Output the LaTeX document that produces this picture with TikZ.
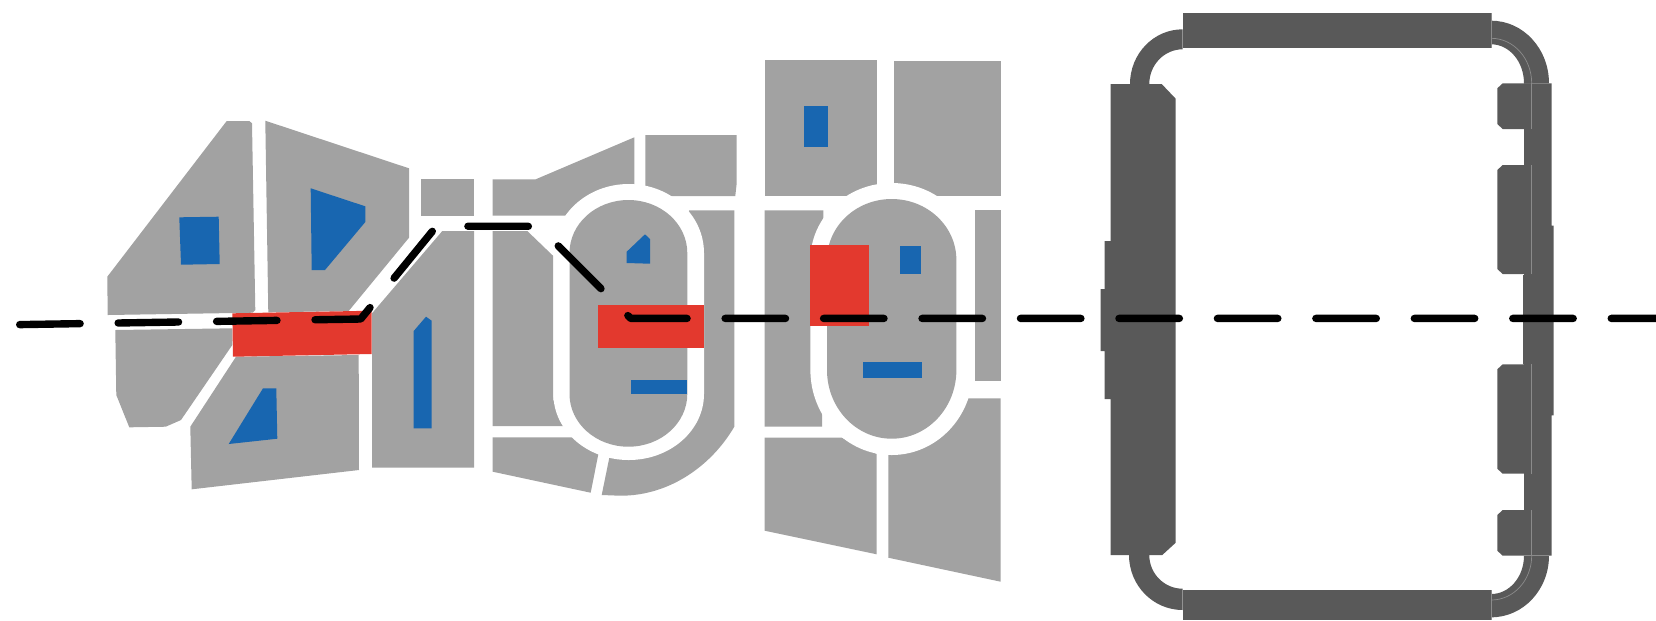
\documentclass[tikz,border=0pt]{standalone}
\usepackage{tikz}
\definecolor{zonegray}{HTML}{A2A2A2}
\definecolor{parkblue}{HTML}{1866B0}
\definecolor{hitred}{HTML}{E3392E}
\definecolor{hulldark}{HTML}{595959}
\tikzstyle{zone}=[fill=zonegray]
\tikzstyle{park}=[fill=parkblue]
\tikzstyle{hit}=[fill=hitred]
\tikzstyle{hull}=[fill=hulldark]
\tikzstyle{seam}=[draw=white!30!hulldark,line width=0.2pt]
\tikzstyle{route}=[draw,black,line width=2.1pt,line cap=round,line join=round,dash pattern=on 0.604cm off 0.38cm]

\begin{document}
\begin{tikzpicture}[x=0.01cm,y=-0.01cm]
    \useasboundingbox (0,0) rectangle (1656,620);
    % First we draw the grey blocks on the left
    \fill[zone] (226.7,121) -- (249.3,121) -- (252,123.3) -- (255.3,310) -- (252.7,312.7) -- (107.7,315) -- (107.3,276.7) -- cycle;
    \fill[zone] (265.3,120.7) -- (409,168.3) -- (409,237.7) -- (348.7,311) -- (268.3,312.3) -- cycle;
    \fill[zone] (115.3,330) -- (232.3,328.3) -- (232.3,345) -- (181,420) -- (165.7,426.7) -- (129.3,427.3) -- (116.3,395) -- cycle;
    \fill[zone] (236,356.7) -- (358.7,355) -- (359,470) -- (191.7,489.3) -- (190.3,426.7) -- cycle;
    \fill[zone] (442.3,231) -- (474,231) -- (474,467.7) -- (372,467.7) -- (372,313.3) -- cycle;
    \fill[zone] (492.7,179.3) -- (535.7,179.3) -- (634.3,137.3) -- (634.3,200) -- (580,215.7) -- (492.7,215.7) -- cycle;
    \fill[zone] (645.3,135) -- (736.7,135) -- (736.7,183.3) -- (735.3,196) -- (645.3,196) -- cycle;
    \fill[zone] (492.7,231) -- (527.3,231) -- (553.3,256) -- (553.3,400) -- (570,426) -- (492.7,426) -- cycle;
    \fill[zone] (492.7,437.3) -- (575,437.3) -- (598.3,454.3) -- (590.7,492.7) -- (492.7,471.7) -- cycle;
    \fill[zone] (689.3,210.3) -- (734.3,210.3) -- (734.3,426.7)
        .. controls (712,465) and (670,496) .. (620,495.7) -- (601.7,495) -- (610.9,450) -- (680,400) -- (680,230) -- cycle;
    % Then the blocks round the second ring
    \fill[zone] (764.7,60) rectangle (876.7,196);
    \fill[zone] (893.7,60.7) rectangle (1000.7,196);
    \fill[zone] (764.7,210.3) -- (823.3,210.3) -- (823.3,240) -- (822,400) -- (822,426.7) -- (764.7,426.7) -- cycle;
    \fill[zone] (764.7,437.7) -- (841.7,437.7) -- (876.7,454) -- (876.7,554.3) -- (764.7,530.7) -- cycle;
    \fill[zone] (960,398.3) -- (1000.7,398.3) -- (1000.7,581.7) -- (888.3,557.7) -- (888.3,440) -- cycle;
    \foreach \corner/\opposite in {{(421.3,179)/(474.3,216)}, {(974.7,210.3)/(1000.7,381)}}
        \fill[zone] \corner rectangle \opposite;
    % White tracks with the grey ovals inside
    \fill[white] (553.4,253) arc[start angle=180,end angle=360,x radius=75.3,y radius=69] -- (704,394)
        arc[start angle=0,end angle=180,x radius=75.3,y radius=66] -- cycle;
    \fill[zone] (569.5,253) arc[start angle=180,end angle=360,x radius=58.9,y radius=53] -- (687.3,394)
        arc[start angle=0,end angle=180,x radius=58.9,y radius=52.7] -- cycle;
    \fill[white] (810.4,260) arc[start angle=180,end angle=360,x radius=81.3,y radius=77] -- (973,370)
        arc[start angle=0,end angle=180,x radius=81.3,y radius=85] -- cycle;
    \fill[zone] (827,260) arc[start angle=180,end angle=360,x radius=64.7,y radius=61] -- (956.4,370)
        arc[start angle=0,end angle=180,x radius=64.7,y radius=68.7] -- cycle;
    % Blue spots
    \fill[park] (179.3,217.3) -- (218.7,216.7) -- (219.7,264) -- (181,264.7) -- cycle;
    \fill[park] (310.7,188.3) -- (365.3,206.3) -- (365.3,222) -- (325,270) -- (311.7,270) -- cycle;
    \fill[park] (263,388.3) -- (276.3,388.3) -- (277.3,438.7) -- (228.7,444) -- cycle;
    \fill[park] (426,316.7) -- (431.7,320.7) -- (431.7,428.3) -- (413.7,428.3) -- (413.7,331) -- cycle;
    \fill[park] (645,234.3) -- (650,239) -- (650,263.7) -- (626.7,263) -- (626.7,251.7) -- cycle;
    \foreach \corner/\opposite in {{(630.7,380.3)/(687,394)}, {(803.7,106)/(827.7,147)}, {(899.7,245.7)/(921,274)}, {(862.7,362)/(921.7,378)}}
        \fill[park] \corner rectangle \opposite;
    % Red patches
    \fill[hit] (232.3,313.3) -- (371.7,310.7) -- (371.7,354) -- (233,356.7) -- cycle;
    \foreach \corner/\opposite in {{(598,305)/(704,348.3)}, {(809.7,245)/(868.7,326)}}
        \fill[hit] \corner rectangle \opposite;
    % Dark frame on the right
    \fill[hull] (1182.7,13.3) rectangle (1491.3,47.7);
    \fill[hull] (1182.7,590) rectangle (1491.3,620);
    \fill[hull] (1110.7,84) -- (1161.7,84) -- (1175.7,98.7) -- (1175.7,542.7) -- (1162.3,555) -- (1110.7,555) -- (1110.7,399) -- (1104.7,399)
        -- (1104.7,351) -- (1100.7,351) -- (1100.7,289) -- (1104.7,289) -- (1104.7,241) -- (1110.7,241) -- cycle;
    \fill[hull] (1130,84) arc[start angle=180,end angle=270,x radius=52.7,y radius=54.7] -- (1182.7,49.3)
        arc[start angle=270,end angle=180,x radius=33.4,y radius=34.7] -- cycle;
    \fill[hull] (1129,555) arc[start angle=180,end angle=90,x radius=53.7,y radius=55] -- (1182.7,588.7)
        arc[start angle=90,end angle=180,x radius=33.4,y radius=33.7] -- cycle;
    \fill[hull] (1549,83.3) arc[start angle=0,end angle=-90,x radius=57.7,y radius=62.6] -- (1491.3,44.3)
        arc[start angle=-90,end angle=0,x radius=32.7,y radius=39] -- cycle;
    \fill[hull] (1549,555.7) arc[start angle=0,end angle=90,x radius=57.7,y radius=61.6] -- (1491.3,594)
        arc[start angle=90,end angle=0,x radius=32.7,y radius=38.3] -- cycle;
    \fill[hull] (1524,83.3) -- (1551.7,83.3) -- (1551.7,225.7) -- (1553.7,225.7) -- (1553.7,415.3) -- (1551.7,415.3) -- (1551.7,555.7) -- (1524,555.7)
        -- (1524,364.3) -- (1523,364.3) -- (1523,275) -- (1524,275) -- cycle;
    \foreach \top/\bot in {83.3/129, 165/274, 364.3/473.7, 510/555.7}
        \fill[hull] (1502.7,\top) -- (1531.7,\top) -- (1531.7,\bot) -- (1502.7,\bot) -- (1497.3,\bot-5) -- (1497.3,\top+5) -- cycle;
    % Thin seams
    \foreach \top/\bot in {83.3/129, 165/274, 364.3/473.7, 510/555.7}
        \draw[seam] (1531.7,\top) -- (1531.7,\bot);
    \draw[seam] (1491.3,38.3) arc[start angle=-90,end angle=0,x radius=40.4,y radius=45];
    \draw[seam] (1491.3,600) arc[start angle=90,end angle=0,x radius=40.4,y radius=44.3];
    \draw[seam] (1491.3,13.3) -- (1491.3,47.7);
    \draw[seam] (1491.3,590) -- (1491.3,620);
    \draw[seam] (1524,555.7) -- (1549,555.7);
    % Route over everything
    \foreach \pos/\name in {{(19.7,324.6)/r0}, {(360.7,319)/r1}, {(436.5,226.2)/r2}, {(538.7,226.3)/r3}, {(630.7,318.4)/r4}, {(1670,318.4)/r5}}
        \node[coordinate] (\name) at \pos {};
    \draw[route] (r0) -- (r1) -- (r2) -- (r3) -- (r4) -- (r5);
\end{tikzpicture}
\end{document}
